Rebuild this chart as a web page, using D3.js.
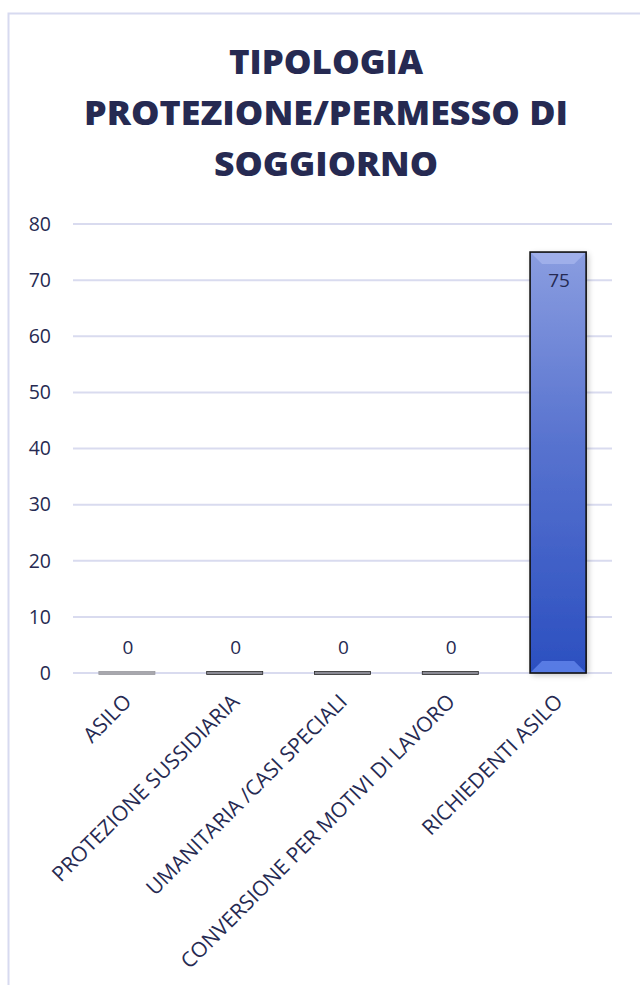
<!DOCTYPE html>
<html>
<head>
<meta charset="utf-8">
<script src="https://cdn.jsdelivr.net/npm/d3@7/dist/d3.min.js"></script>
<style>
  html, body { margin: 0; padding: 0; background: #fff; }
  svg { display: block; }
  text { font-family: "Open Sans", "Noto Sans", sans-serif; fill: #262a52; }
</style>
</head>
<body>
<script>
// Data
const categories = [
  "ASILO",
  "PROTEZIONE SUSSIDIARIA",
  "UMANITARIA /CASI SPECIALI",
  "CONVERSIONE PER MOTIVI DI LAVORO",
  "RICHIEDENTI ASILO"
];
const values = [0, 0, 0, 0, 75];
const yTicks = [0, 10, 20, 30, 40, 50, 60, 70, 80];
const titleLines = ["TIPOLOGIA", "PROTEZIONE/PERMESSO DI", "SOGGIORNO"];

const W = 640, H = 985;
const margin = { left: 73, right: 28, top: 224, bottom: 312 };

const svg = d3.select("body").append("svg")
  .attr("width", W).attr("height", H);

const defs = svg.append("defs");
const grad = defs.append("linearGradient")
  .attr("id", "barGrad").attr("x1", 0).attr("y1", 0).attr("x2", 0).attr("y2", 1);
grad.append("stop").attr("offset", "0%").attr("stop-color", "#8a9de0");
grad.append("stop").attr("offset", "45%").attr("stop-color", "#5873cf");
grad.append("stop").attr("offset", "100%").attr("stop-color", "#2b4fc0");

const shadow = defs.append("filter").attr("id", "shadow")
  .attr("x", "-30%").attr("y", "-10%").attr("width", "160%").attr("height", "130%");
shadow.append("feGaussianBlur").attr("in", "SourceAlpha").attr("stdDeviation", 3);
shadow.append("feOffset").attr("dx", 2).attr("dy", 2).attr("result", "b");
shadow.append("feComponentTransfer").append("feFuncA").attr("type", "linear").attr("slope", 0.25);
const merge = shadow.append("feMerge");
merge.append("feMergeNode");
merge.append("feMergeNode").attr("in", "SourceGraphic");

// Chart frame
svg.append("rect")
  .attr("x", 8.5).attr("y", 13.5)
  .attr("width", W + 20).attr("height", H + 20)
  .attr("fill", "none").attr("stroke", "#d7daf0").attr("stroke-width", 2);

// Title
svg.append("g").selectAll("text")
  .data(titleLines).join("text")
  .attr("x", 326)
  .attr("y", (d, i) => 74 + i * 51)
  .attr("text-anchor", "middle")
  .attr("font-weight", 800)
  .attr("font-size", 34)
  .attr("textLength", (d, i) => [194, 484, 224][i])
  .attr("lengthAdjust", "spacingAndGlyphs")
  .text(d => d);

const x = d3.scaleBand()
  .domain(categories)
  .range([margin.left, W - margin.right])
  .paddingInner(0.48).paddingOuter(0.24);

const y = d3.scaleLinear()
  .domain([0, 80])
  .range([H - margin.bottom, margin.top]);

// Gridlines
svg.append("g").selectAll("line")
  .data(yTicks).join("line")
  .attr("x1", margin.left).attr("x2", W - margin.right)
  .attr("y1", d => y(d)).attr("y2", d => y(d))
  .attr("stroke", "#d9dbef").attr("stroke-width", 2);

// Y axis labels
const yAxis = d3.axisLeft(y).tickValues(yTicks).tickSize(0).tickPadding(0);
const yg = svg.append("g").attr("transform", `translate(51,0)`).call(yAxis);
yg.select(".domain").remove();
yg.selectAll("text")
  .attr("font-size", 19.5)
  .attr("fill", "#262a52")
  .style("font-family", '"Open Sans", sans-serif');

// Bars
const bars = svg.append("g");
categories.forEach((c, i) => {
  const v = values[i];
  const bx = x(c), bw = x.bandwidth();
  const top = y(v), bottom = y(0);
  if (v === 0) {
    bars.append("rect")
      .attr("x", bx).attr("y", bottom - 1.5)
      .attr("width", bw).attr("height", 3)
      .attr("fill", i === 0 ? "#a8a8ae" : "#8a8a94")
      .attr("stroke", i === 0 ? "#9a9aa0" : "#2a2a2a").attr("stroke-width", 0.8);
  } else {
    const g = bars.append("g");
    g.append("rect")
      .attr("x", bx).attr("y", top)
      .attr("width", bw).attr("height", bottom - top)
      .attr("fill", "url(#barGrad)")
      .attr("filter", "url(#shadow)");
    // bevel highlights
    const b = 12;
    g.append("polygon")
      .attr("points", [[bx, top], [bx + bw, top], [bx + bw - b, top + b], [bx + b, top + b]].join(" "))
      .attr("fill", "#a9b8ee").attr("opacity", 0.7);
    g.append("polygon")
      .attr("points", [[bx, bottom], [bx + bw, bottom], [bx + bw - b, bottom - b], [bx + b, bottom - b]].join(" "))
      .attr("fill", "#5f83ea").attr("opacity", 0.85);
    g.append("rect")
      .attr("x", bx).attr("y", top)
      .attr("width", bw).attr("height", bottom - top)
      .attr("fill", "none").attr("stroke", "#111").attr("stroke-width", 1.6);
  }
});

// Value labels
svg.append("g").selectAll("text")
  .data(categories).join("text")
  .attr("x", c => x(c) + x.bandwidth() / 2 + 1)
  .attr("y", (c, i) => values[i] === 0 ? y(0) - 19 : y(values[i]) + 35)
  .attr("text-anchor", "middle")
  .attr("font-size", 19)
  .text((c, i) => values[i]);

// Category labels
svg.append("g").selectAll("text")
  .data(categories).join("text")
  .attr("transform", c => `translate(${x(c) + x.bandwidth() / 2 + 6},${y(0) + 30}) rotate(-45)`)
  .attr("text-anchor", "end")
  .attr("font-size", 21)
  .text(d => d);
</script>
</body>
</html>
